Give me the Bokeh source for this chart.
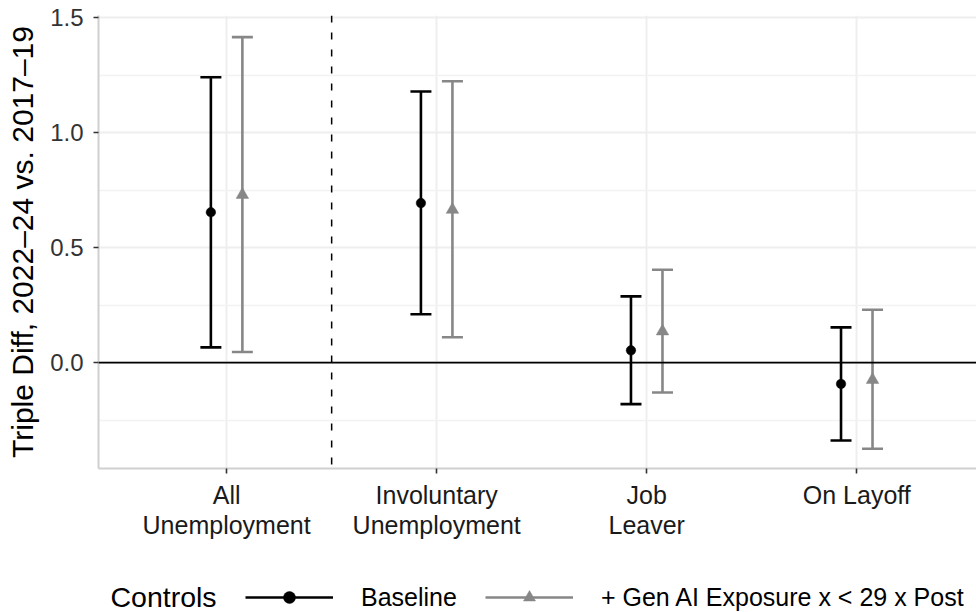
import numpy as np
from bokeh.plotting import figure
from bokeh.layouts import column
from bokeh.models import (ColumnDataSource, FixedTicker, PrintfTickFormatter, Span,
                          Legend, LegendItem, Label, Range1d)
from bokeh.embed import file_html
from bokeh.resources import INLINE

# ---- data ----
categories = ["All\nUnemployment", "Involuntary\nUnemployment", "Job\nLeaver", "On Layoff"]
baseline_est = [0.654, 0.694, 0.053, -0.093]
baseline_lo = [0.066, 0.210, -0.181, -0.339]
baseline_hi = [1.241, 1.179, 0.288, 0.153]
genai_est = [0.730, 0.665, 0.136, -0.075]
genai_lo = [0.046, 0.110, -0.130, -0.375]
genai_hi = [1.416, 1.224, 0.404, 0.230]
series_labels = ["Baseline", "+ Gen AI Exposure x < 29 x Post"]
legend_title = "Controls"
y_title = "Triple Diff, 2022–24 vs. 2017–19"
y_ticks = [0.0, 0.5, 1.0, 1.5]
y_minor = [-0.25, 0.25, 0.75, 1.25]
divider_at = 1.5

FONT = "Liberation Sans"
BLACK = "#000000"
GRAY = "#878787"
LW = 2.6
dodge = 0.075
cap = 0.05

xpos = np.arange(1, len(categories) + 1, dtype=float)

p = figure(width=976, height=545, x_range=Range1d(0.39, 4.57), y_range=Range1d(-0.461, 1.51),
           output_backend="svg", toolbar_location=None,
           min_border_left=98, min_border_right=0, min_border_top=15, min_border_bottom=77)
p.outline_line_color = None
p.background_fill_color = "white"

def series(fig, est, lo, hi, offset, color, marker, size):
    x = xpos + offset
    src = ColumnDataSource(dict(x=x, est=est, lo=lo, hi=hi, xl=x - cap, xr=x + cap))
    seg = fig.segment(x0="x", y0="lo", x1="x", y1="hi", source=src, line_color=color, line_width=LW)
    fig.segment(x0="xl", y0="hi", x1="xr", y1="hi", source=src, line_color=color, line_width=LW)
    fig.segment(x0="xl", y0="lo", x1="xr", y1="lo", source=src, line_color=color, line_width=LW)
    pt = fig.scatter(x="x", y="est", source=src, marker=marker, size=size,
                     fill_color=color, line_color=color, line_width=0.5)
    return seg, pt

# reference lines
p.add_layout(Span(location=0, dimension="width", line_color=BLACK, line_width=1.8))
p.add_layout(Span(location=divider_at, dimension="height", line_color=BLACK,
                  line_width=1.5, line_dash="7 10"))

series(p, baseline_est, baseline_lo, baseline_hi, -dodge, BLACK, "circle", 9.5)
series(p, genai_est, genai_lo, genai_hi, dodge, GRAY, "triangle", 12.5)

# axes
p.xaxis.ticker = FixedTicker(ticks=list(xpos))
p.xgrid.ticker = FixedTicker(ticks=list(xpos))
p.xaxis.major_label_overrides = {float(x): c for x, c in zip(xpos, categories)}
p.yaxis.ticker = FixedTicker(ticks=y_ticks, minor_ticks=y_minor)
p.yaxis.formatter = PrintfTickFormatter(format="%.1f")

for ax in (p.xaxis[0], p.yaxis[0]):
    ax.axis_line_color = "#D0D0D0"
    ax.axis_line_width = 2
    ax.major_tick_line_color = "#333333"
    ax.major_tick_line_width = 1.6
    ax.major_tick_in = 0
    ax.major_tick_out = 5
    ax.minor_tick_line_color = None
    ax.major_label_text_font = FONT
    ax.major_label_text_color = "#333333"

p.yaxis.major_label_text_font_size = "24px"
p.yaxis.major_label_standoff = 10
p.xaxis.major_label_text_font_size = "25px"
p.xaxis.major_label_text_color = "#1a1a1a"
p.xaxis.major_label_standoff = 7
p.xaxis.major_label_text_line_height = 1.1

p.yaxis.axis_label = y_title
p.yaxis.axis_label_text_font = FONT
p.yaxis.axis_label_text_font_size = "30px"
p.yaxis.axis_label_text_font_style = "normal"
p.yaxis.axis_label_text_color = BLACK
p.yaxis.axis_label_standoff = 8

p.ygrid.grid_line_color = "#EEEEEE"
p.ygrid.grid_line_width = 2
p.ygrid.minor_grid_line_color = "#F2F2F2"
p.ygrid.minor_grid_line_width = 1.6
p.xgrid.grid_line_color = "#EEEEEE"
p.xgrid.grid_line_width = 2

# ---- legend strip (separate figure below the plot, same frame alignment) ----
lg = figure(width=976, height=67, output_backend="svg", toolbar_location=None,
            x_axis_type=None, y_axis_type=None, x_range=Range1d(0, 1), y_range=Range1d(0, 1),
            min_border_left=98, min_border_right=0, min_border_top=0, min_border_bottom=0)
lg.outline_line_color = None
lg.background_fill_color = "white"
# key renderers: one point each, placed outside the visible range so only the legend shows them
kb_l, kb_p = series(lg, [-5.0], [-5.0], [-5.0], 0, BLACK, "circle", 9.5)
kg_l, kg_p = series(lg, [-5.0], [-5.0], [-5.0], 0, GRAY, "triangle", 12.5)
for r in lg.renderers:
    r.data_source.data["x"] = [-5.0]
    r.data_source.data["xl"] = [-5.0]
    r.data_source.data["xr"] = [-5.0]

legend = Legend(items=[LegendItem(label=series_labels[0], renderers=[kb_l, kb_p]),
                       LegendItem(label=series_labels[1], renderers=[kg_l, kg_p])],
                location=(147, 0), orientation="horizontal",
                glyph_width=88, glyph_height=30, label_height=30,
                label_standoff=28, spacing=28, padding=0, margin=0,
                border_line_color=None, background_fill_alpha=0,
                label_text_font=FONT, label_text_font_size="25px", label_text_color=BLACK)
lg.add_layout(legend, "center")
lg.add_layout(Label(x=12, y=15.3, x_units="screen", y_units="screen", text=legend_title,
                    text_font=FONT, text_font_size="28.5px", text_baseline="middle",
                    text_color=BLACK))

layout = column(p, lg, spacing=0)
open("out.html", "w").write(file_html(layout, INLINE))
